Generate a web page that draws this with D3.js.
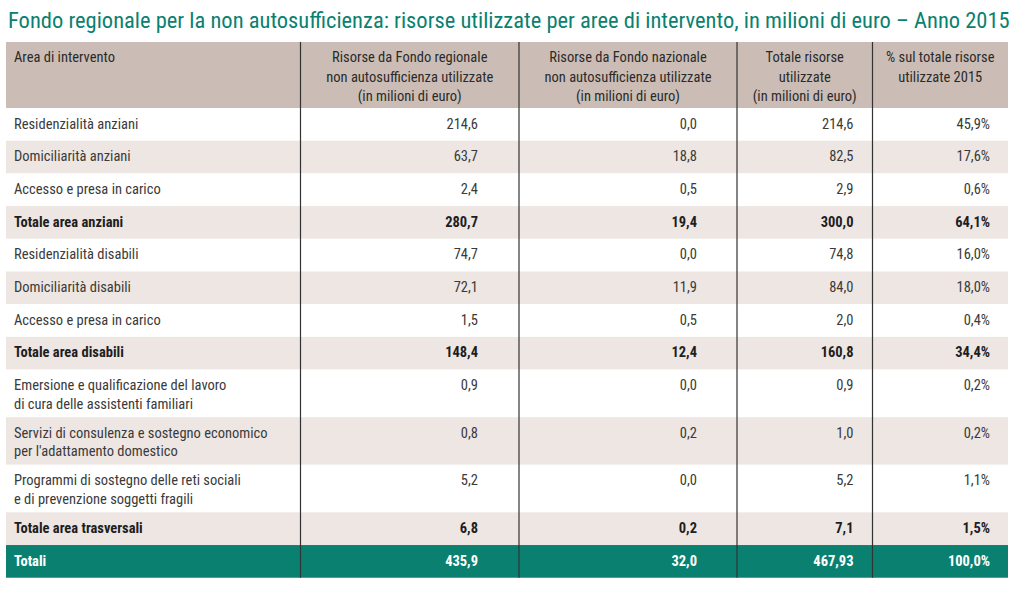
<!DOCTYPE html>
<html><head><meta charset="utf-8">
<script src="https://cdn.jsdelivr.net/npm/d3@7"></script>
<style>
html,body{margin:0;padding:0;background:#fff;}
svg text{font-family:"Liberation Sans Narrow","Roboto Condensed",Roboto,sans-serif;}
</style></head>
<body><svg id="c" width="1024" height="598"></svg>
<script>
const title = "Fondo regionale per la non autosufficienza: risorse utilizzate per aree di intervento, in milioni di euro – Anno 2015";
const headers = [
  ["Area di intervento"],
  ["Risorse da Fondo regionale","non autosufficienza utilizzate","(in milioni di euro)"],
  ["Risorse da Fondo nazionale","non autosufficienza utilizzate","(in milioni di euro)"],
  ["Totale risorse","utilizzate","(in milioni di euro)"],
  ["% sul totale risorse","utilizzate 2015"]
];
const categories = [
  ["Residenzialità anziani"],
  ["Domiciliarità anziani"],
  ["Accesso e presa in carico"],
  ["Totale area anziani"],
  ["Residenzialità disabili"],
  ["Domiciliarità disabili"],
  ["Accesso e presa in carico"],
  ["Totale area disabili"],
  ["Emersione e qualificazione del lavoro","di cura delle assistenti familiari"],
  ["Servizi di consulenza e sostegno economico","per l'adattamento domestico"],
  ["Programmi di sostegno delle reti sociali","e di prevenzione soggetti fragili"],
  ["Totale area trasversali"],
  ["Totali"]
];
const rowKind = ["row","row","row","subtotal","row","row","row","subtotal","row","row","row","subtotal","total"];
const fondoRegionale = ["214,6","63,7","2,4","280,7","74,7","72,1","1,5","148,4","0,9","0,8","5,2","6,8","435,9"];
const fondoNazionale = ["0,0","18,8","0,5","19,4","0,0","11,9","0,5","12,4","0,0","0,2","0,0","0,2","32,0"];
const totaleRisorse = ["214,6","82,5","2,9","300,0","74,8","84,0","2,0","160,8","0,9","1,0","5,2","7,1","467,93"];
const percentuale = ["45,9%","17,6%","0,6%","64,1%","16,0%","18,0%","0,4%","34,4%","0,2%","0,2%","1,1%","1,5%","100,0%"];

const svg = d3.select("#c");
const teal = "#0a8170", head = "#cbbdb5", shade = "#ede6e3";
const colEdges = [6, 300.5, 519, 737, 872.5, 1008];
const tableTop = 42, headBottom = 108;
const singleH = 32.7, lineStep = 18.5, firstBase = 20.5;

svg.append("text").attr("x", 8).attr("y", 28).attr("fill", teal)
  .attr("font-size", 22.5).text(title);

// row layout via cumulative units
const units = categories.map(c => 1 + (c.length - 1) * 0.455);
const cum = [0]; units.forEach(u => cum.push(cum[cum.length-1] + u));
const y = d3.scaleLinear().domain([0, 1]).range([headBottom, headBottom + singleH]);

// header band
svg.append("rect").attr("x", colEdges[0]).attr("y", tableTop)
  .attr("width", colEdges[5]-colEdges[0]).attr("height", headBottom - tableTop).attr("fill", head);

const rows = svg.append("g").selectAll("g").data(categories).join("g");
rows.append("rect")
  .attr("x", colEdges[0]).attr("width", colEdges[5]-colEdges[0])
  .attr("y", (d,i) => y(cum[i])).attr("height", (d,i) => y(cum[i+1]) - y(cum[i]))
  .attr("fill", (d,i) => rowKind[i] === "total" ? teal : (i % 2 === 1 ? shade : "#fff"));

const textColor = (i) => rowKind[i] === "total" ? "#fff" : (rowKind[i] === "subtotal" ? "#1e1e1e" : "#3a3a3a");
const weight = (i) => rowKind[i] === "row" ? "normal" : "bold";
const fs = 14.5;

rows.each(function(d, i){
  const g = d3.select(this);
  const top = y(cum[i]);
  const t = g.append("text").attr("x", 14).attr("font-size", fs)
    .attr("fill", textColor(i)).attr("font-weight", weight(i));
  d.forEach((line, k) => t.append("tspan").attr("x", 14).attr("y", top + firstBase + k*lineStep).text(line));
  const vals = [fondoRegionale[i], fondoNazionale[i], totaleRisorse[i], percentuale[i]];
  const pads = [41, 40, 19, 18];
  vals.forEach((v, c) => {
    g.append("text").attr("x", colEdges[c+2] - pads[c]).attr("y", top + firstBase)
      .attr("text-anchor", "end").attr("font-size", fs)
      .attr("fill", textColor(i)).attr("font-weight", weight(i)).text(v);
  });
});

// header texts
headers.forEach((h, c) => {
  const t = svg.append("text").attr("font-size", fs).attr("fill", "#2a2a2a");
  const cx = c === 0 ? 14 : (colEdges[c] + colEdges[c+1]) / 2;
  t.attr("text-anchor", c === 0 ? "start" : "middle");
  h.forEach((line, k) => t.append("tspan").attr("x", cx).attr("y", 62 + k*19.5).text(line));
});

// column dividers
svg.append("g").selectAll("line").data(colEdges.slice(1, 5)).join("line")
  .attr("x1", d => d).attr("x2", d => d).attr("y1", tableTop).attr("y2", y(cum[cum.length-1]))
  .attr("stroke", "#333").attr("stroke-width", 1.2);
</script></body></html>
